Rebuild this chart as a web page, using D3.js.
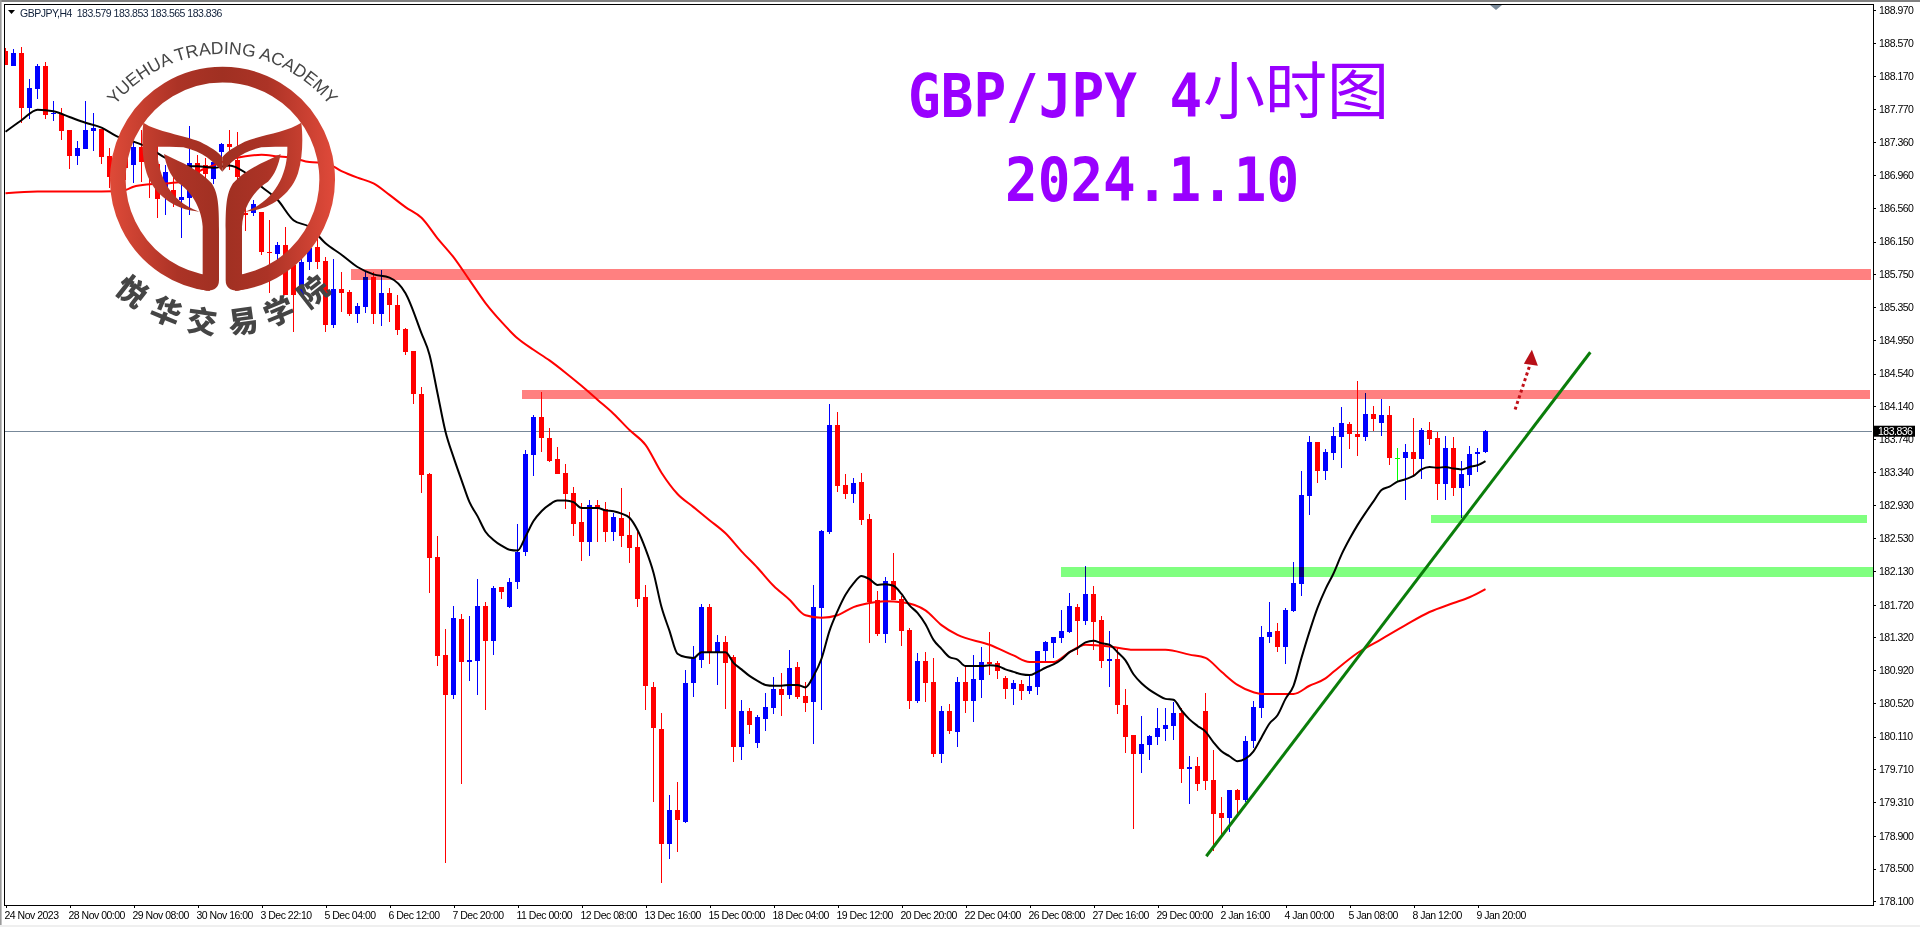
<!DOCTYPE html>
<html><head><meta charset="utf-8">
<style>
html,body{margin:0;padding:0;background:#fff;overflow:hidden}
svg{display:block}
.ax text{font-family:"Liberation Sans",sans-serif;font-size:10.5px;fill:#000;letter-spacing:-0.5px}
.ax line{stroke:#000;shape-rendering:crispEdges}
.ax path{display:none}
</style>
<script src="https://cdn.jsdelivr.net/npm/d3@7"></script>
</head><body>
<script>
const opens=[188.48,188.29,188.45,187.78,188.01,188.29,187.71,187.71,187.51,187.19,
187.28,187.50,187.52,187.19,186.95,187.27,187.08,187.30,187.27,187.10,
186.72,186.78,186.66,186.68,187.11,187.08,186.91,187.24,187.34,187.15,
186.50,186.50,186.51,186.02,186.00,186.11,185.86,185.50,185.90,186.08,
185.91,185.13,185.57,185.53,185.27,185.35,185.72,185.27,185.52,185.38,
185.08,184.81,184.29,183.31,182.30,181.10,180.62,181.54,181.02,181.03,
181.70,181.28,181.93,181.69,182.00,182.36,183.55,184.01,183.75,183.50,
183.33,183.08,182.73,182.48,182.94,182.89,182.61,182.78,182.57,182.42,
181.81,180.72,180.20,178.80,179.21,179.07,180.76,181.04,181.69,181.13,
181.26,181.08,179.98,180.42,180.03,180.32,180.46,180.69,180.62,180.96,
180.60,180.53,181.68,182.61,183.91,183.18,183.07,183.22,182.76,181.78,
181.36,182.01,181.79,181.41,180.55,181.03,180.78,179.90,180.42,180.17,
180.78,180.54,180.80,181.02,181.01,180.82,180.69,180.75,180.67,180.71,
181.15,181.25,181.31,181.39,181.69,181.52,181.85,181.53,181.03,181.06,
180.50,180.13,179.90,180.01,180.10,180.20,180.24,180.40,179.71,179.75,
180.42,179.58,179.18,179.12,179.46,179.34,180.06,180.46,181.32,181.40,
181.20,181.64,181.97,183.05,183.70,183.35,183.57,183.77,183.92,183.80,
183.77,184.05,183.94,184.03,183.51,183.51,183.58,183.50,183.85,183.75,
183.19,183.63,183.14,183.30,183.56,183.579];
const highs=[188.51,188.50,188.52,188.13,188.32,188.34,187.87,187.78,187.51,187.38,
187.87,187.72,187.52,187.29,187.33,187.39,187.37,187.51,187.45,187.39,
187.08,187.02,186.86,187.56,187.21,187.17,187.21,187.35,187.51,187.49,
186.69,186.66,186.51,186.41,186.15,186.33,185.96,186.08,186.25,186.23,
185.96,185.94,185.78,185.56,185.40,185.78,185.78,185.80,185.58,185.50,
185.10,184.81,184.38,183.33,182.56,181.42,181.70,181.61,181.58,182.03,
181.75,181.95,181.93,182.05,182.70,183.61,184.03,184.32,183.88,183.64,
183.44,183.16,182.96,183.00,183.00,182.97,182.84,183.14,182.85,182.61,
181.96,180.78,180.40,179.40,179.56,180.92,181.21,181.73,181.73,181.35,
181.34,181.10,180.56,180.46,180.37,180.64,180.84,180.89,181.17,181.02,
180.78,181.96,182.63,184.17,184.07,183.31,183.27,183.33,182.83,181.89,
182.06,182.35,181.83,181.43,181.13,181.14,181.07,180.48,180.51,180.84,
180.97,181.11,181.20,181.39,181.03,180.85,180.80,180.80,180.87,181.15,
181.28,181.33,181.65,181.86,181.73,182.19,181.95,181.58,181.40,181.20,
180.69,180.13,180.36,180.13,180.46,180.46,180.53,180.46,179.87,179.86,
180.64,179.95,179.37,179.46,179.47,180.12,180.54,181.46,181.75,181.49,
181.68,182.24,183.35,183.78,183.70,183.62,183.89,184.13,183.95,184.45,
184.30,184.14,184.23,184.14,183.63,183.68,184.00,183.88,183.95,183.83,
183.78,183.76,183.47,183.66,183.63,183.853];
const lows=[188.30,188.29,187.60,187.65,187.89,187.65,187.62,187.39,187.04,187.08,
187.28,187.26,187.10,186.80,186.84,186.90,186.86,186.88,186.68,186.44,
186.47,186.57,186.19,186.47,186.84,186.90,186.85,187.02,187.02,186.90,
186.28,186.46,185.99,185.52,185.89,185.50,185.05,185.47,185.80,185.82,
185.05,185.10,185.29,185.24,185.16,185.28,185.14,185.12,185.17,185.01,
184.77,184.17,183.08,181.86,180.97,178.57,180.57,179.53,180.79,180.62,
180.43,181.10,181.79,181.68,181.91,182.31,183.29,183.58,183.46,183.31,
182.89,182.56,182.25,182.31,182.48,182.48,182.50,182.42,182.23,181.69,
180.43,179.31,178.32,178.62,178.70,179.06,180.59,180.95,180.99,180.74,
180.45,179.80,179.83,180.14,179.97,180.18,180.39,180.36,180.57,180.57,
180.41,180.02,180.43,182.58,183.09,183.01,182.96,182.69,181.25,181.34,
181.25,181.78,181.21,180.45,180.52,180.53,179.86,179.79,180.14,179.98,
180.40,180.29,180.58,180.86,180.81,180.57,180.50,180.56,180.63,180.62,
181.02,181.07,181.25,181.37,181.10,181.47,181.17,180.95,180.71,180.39,
179.91,178.98,179.67,179.82,180.01,180.06,180.07,179.54,179.29,179.45,
179.46,178.71,178.91,178.95,179.17,179.31,179.97,180.34,181.25,181.14,
180.99,181.63,181.83,182.81,183.20,183.24,183.48,183.39,183.62,183.53,
183.72,183.84,183.78,183.42,183.23,183.00,183.28,183.25,183.67,183.00,
183.00,183.05,182.78,183.17,183.34,183.565];
const closes=[188.30,188.45,187.78,188.02,188.29,187.69,187.72,187.50,187.19,187.29,
187.51,187.54,187.18,186.94,187.17,187.05,187.30,187.12,187.02,186.67,
187.00,186.68,186.69,187.11,186.99,186.97,187.12,187.34,187.30,186.94,
186.47,186.61,186.02,186.01,186.11,185.50,185.50,185.90,186.07,185.90,
185.13,185.57,185.52,185.27,185.36,185.72,185.27,185.52,185.38,185.07,
184.80,184.29,183.30,182.29,181.09,180.62,181.56,181.02,181.04,181.70,
181.28,181.92,181.87,182.00,182.36,183.56,184.01,183.75,183.47,183.31,
183.07,182.70,182.49,182.94,182.89,182.61,182.79,182.56,182.41,181.79,
180.73,180.21,178.80,179.21,179.09,180.76,181.07,181.69,181.13,181.26,
181.01,179.98,180.42,180.25,180.35,180.47,180.69,180.62,180.95,180.59,
180.52,181.69,182.62,183.91,183.17,183.07,183.20,182.75,181.75,181.36,
182.01,181.78,181.40,180.55,181.03,180.76,179.90,180.42,180.18,180.78,
180.54,180.81,181.02,180.99,180.91,180.69,180.76,180.67,180.73,181.15,
181.26,181.33,181.40,181.70,181.52,181.85,181.51,181.03,181.06,180.50,
180.10,179.90,180.02,180.12,180.21,180.25,180.40,179.71,179.74,179.53,
179.57,179.17,179.12,179.46,179.34,180.06,180.47,181.33,181.39,181.20,
181.65,181.98,183.06,183.70,183.35,183.58,183.78,183.94,183.80,183.77,
184.05,183.98,184.03,183.51,183.51,183.58,183.50,183.85,183.74,183.19,
183.63,183.14,183.31,183.56,183.58,183.836];

const fastBars=[0,2,4,6,8,10,12,14,16,18,20,22,24,26,28,30,32,34,36,38,40,42,44,46,48,50,52,53,54,55,
56,57,58,59,60,61,62,63,64,65,66,67,68,69,70,71,72,73,74,75,76,77,78,79,80,81,82,83,84,85,86,87,88,89,90,
91,92,93,94,95,96,97,98,99,100,101,102,103,104,105,106,107,108,109,110,111,112,113,114,115,116,117,118,119,120,
121,122,123,124,125,126,127,128,129,130,131,132,133,134,135,136,137,138,139,140,141,142,143,144,145,146,147,148,149,150,
151,152,153,154,155,156,157,158,159,160,161,162,163,164,165,166,167,168,169,170,171,172,173,174,175,176,177,178,179,180,181,182,183,184,185];
const fastMA=[187.49,187.63,187.76,187.74,187.67,187.60,187.54,187.43,187.37,187.29,187.17,187.07,187.07,187.05,187.08,186.99,186.82,186.66,186.41,186.33,186.13,185.99,185.84,185.75,185.71,185.52,185.03,184.77,184.30,183.83,
183.52,183.24,182.97,182.80,182.61,182.51,182.44,182.39,182.38,182.55,182.74,182.86,182.94,182.99,182.99,182.97,182.90,182.90,182.90,182.87,182.86,182.83,182.78,182.63,182.40,182.11,181.69,181.40,181.12,181.08,181.07,181.14,181.14,181.14,181.14,
181.01,180.93,180.85,180.79,180.74,180.73,180.73,180.74,180.74,180.71,180.85,181.06,181.40,181.64,181.84,181.98,182.07,182.03,181.96,181.97,181.95,181.85,181.71,181.62,181.48,181.29,181.18,181.08,181.05,180.97,
180.97,180.97,180.98,180.97,180.93,180.90,180.87,180.86,180.90,180.95,180.99,181.05,181.14,181.19,181.26,181.28,181.25,181.23,181.14,181.04,180.87,180.76,180.68,180.62,180.57,180.56,180.43,180.32,180.24,180.17,
180.04,179.93,179.87,179.81,179.84,179.93,180.10,180.27,180.37,180.57,180.73,181.07,181.39,181.68,181.91,182.10,182.33,182.52,182.69,182.84,182.98,183.12,183.16,183.22,183.25,183.29,183.37,183.40,183.39,183.40,183.38,183.37,183.40,183.42,183.47];

const slowBars=[0,4,8,12,15,16,18,20,22,24,26,28,30,32,34,36,38,40,42,44,46,48,50,52,54,56,58,60,62,64,66,68,70,72,74,76,78,80,82,84,86,88,90,92,94,96,98,100,102,104,106,108,110,112,115,117,119,123,126,128,131,133,135,138,141,145,148,150,152,154,156,157,161,163,165,166,169,172,175,178,181,183,185];
const slowMA=[186.74,186.76,186.76,186.76,186.78,186.82,186.85,186.86,186.88,187.00,187.08,187.15,187.19,187.21,187.19,187.17,187.12,187.11,187.01,186.93,186.86,186.72,186.57,186.44,186.19,185.96,185.68,185.40,185.17,184.97,184.83,184.70,184.55,184.39,184.22,184.05,183.85,183.67,183.33,183.07,182.91,182.75,182.59,182.37,182.17,181.95,181.78,181.59,181.56,181.59,181.69,181.74,181.76,181.75,181.65,181.47,181.35,181.23,181.10,181.02,181.02,181.14,181.23,181.21,181.17,181.17,181.11,181.07,180.90,180.74,180.65,180.63,180.63,180.73,180.82,180.90,181.13,181.30,181.47,181.63,181.74,181.81,181.91];

const yTicks=[188.97,188.57,188.17,187.77,187.36,186.96,186.56,186.15,185.75,185.35,184.95,184.54,184.14,183.74,183.34,182.93,182.53,182.13,181.72,181.32,180.92,180.52,180.11,179.71,179.31,178.90,178.50,178.10];
const xLabels=["24 Nov 2023","28 Nov 00:00","29 Nov 08:00","30 Nov 16:00","3 Dec 22:10","5 Dec 04:00","6 Dec 12:00","7 Dec 20:00","11 Dec 00:00","12 Dec 08:00","13 Dec 16:00","15 Dec 00:00","18 Dec 04:00","19 Dec 12:00","20 Dec 20:00","22 Dec 04:00","26 Dec 08:00","27 Dec 16:00","29 Dec 00:00","2 Jan 16:00","4 Jan 00:00","5 Jan 08:00","8 Jan 12:00","9 Jan 20:00"];
const xLabelStep=8;

const zoneStart=[43.2,64.6,131.95,178.2];
const zoneEnd=[233.2,233.1,233.6,232.7];
const zoneTop=[185.81,184.34,182.18,182.81];
const zoneBottom=[185.68,184.23,182.06,182.72];
const zoneColor=["#ff8080","#ff8080","#80ff80","#80ff80"];
const trendBars=[150.1,198.1];
const trendPrices=[178.65,184.80];
const arrowBars=[188.7,190.5];
const arrowPrices=[184.10,184.63];
const arrowTipBar=190.8, arrowTipPrice=184.83;
const lastPrice=183.836;
const headline="GBPJPY,H4  183.579 183.853 183.565 183.836";

const W=1920,H=927;
const frame={l:4.5,r:1872.5,t:4.5,b:904.5};
const x=d3.scaleLinear().domain([0,185]).range([5.5,1485.5]);
const y=d3.scaleLinear().domain([178.067,189.0455]).range([904,4.3]);

const svg=d3.select("body").append("svg").attr("width",W).attr("height",H).attr("viewBox",`0 0 ${W} ${H}`).style("isolation","isolate");
svg.append("rect").attr("width",W).attr("height",H).attr("fill","#fff");
svg.append("rect").attr("width",W).attr("height",2).attr("fill","#808080");
svg.append("rect").attr("width",1.6).attr("height",H).attr("fill","#9a9a9a");
svg.append("rect").attr("y",925).attr("width",W).attr("height",2).attr("fill","#efefef");
const defs=svg.append("defs");
defs.append("clipPath").attr("id","plot").append("rect").attr("x",frame.l+0.5).attr("y",frame.t+0.5).attr("width",frame.r-frame.l-1).attr("height",frame.b-frame.t-1);

const plot=svg.append("g").attr("clip-path","url(#plot)");
plot.append("line").attr("x1",frame.l).attr("x2",frame.r).attr("y1",Math.round(y(lastPrice))+0.5).attr("y2",Math.round(y(lastPrice))+0.5).attr("stroke","#778899").attr("stroke-width",1);

const bars=d3.range(opens.length).map(i=>({i,o:opens[i],h:highs[i],l:lows[i],c:closes[i]}));
const col=d=>d.c>d.o?"#0000ff":d.c<d.o?"#ff0000":"#00ff00";
const cg=plot.append("g").attr("shape-rendering","crispEdges");
cg.selectAll(".wick").data(bars).join("rect").attr("class","wick")
 .attr("x",d=>Math.floor(x(d.i))).attr("width",1)
 .attr("y",d=>Math.round(y(d.h))).attr("height",d=>Math.max(1,Math.round(y(d.l))-Math.round(y(d.h))))
 .attr("fill",col);
cg.selectAll(".body").data(bars).join("rect").attr("class","body")
 .attr("x",d=>Math.floor(x(d.i))-2).attr("width",5)
 .attr("y",d=>Math.round(y(Math.max(d.o,d.c))))
 .attr("height",d=>Math.max(1,Math.round(y(Math.min(d.o,d.c)))-Math.round(y(Math.max(d.o,d.c)))))
 .attr("fill",col);

const line=d3.line().x(d=>x(d[0])).y(d=>y(d[1])).curve(d3.curveMonotoneX);
plot.append("path").attr("d",line(slowBars.map((b,i)=>[b,slowMA[i]]))).attr("fill","none").attr("stroke","#ff0000").attr("stroke-width",2);
plot.append("path").attr("d",line(fastBars.map((b,i)=>[b,fastMA[i]]))).attr("fill","none").attr("stroke","#000").attr("stroke-width",2);

// price zones
const zones=svg.append("g").attr("shape-rendering","crispEdges").style("mix-blend-mode","multiply");
zones.selectAll("rect").data(d3.range(zoneStart.length)).join("rect")
 .attr("x",i=>x(zoneStart[i])).attr("width",i=>x(zoneEnd[i])-x(zoneStart[i]))
 .attr("y",i=>y(zoneTop[i])).attr("height",i=>y(zoneBottom[i])-y(zoneTop[i]))
 .attr("fill",i=>zoneColor[i]);

// frame
svg.append("rect").attr("x",frame.l-0.5).attr("y",frame.t-0.5).attr("width",frame.r-frame.l+1).attr("height",frame.b-frame.t+1)
 .attr("fill","none").attr("stroke","#000").attr("stroke-width",1).attr("shape-rendering","crispEdges");

// axes
const yAxis=d3.axisRight(y).tickValues(yTicks).tickFormat(d3.format(".3f")).tickSize(3).tickPadding(3);
svg.append("g").attr("class","ax").attr("transform",`translate(${frame.r+0.5},0)`).call(yAxis);
const xAxis=d3.axisBottom(x).tickValues(xLabels.map((_,i)=>i*xLabelStep)).tickFormat((d,i)=>xLabels[i]).tickSize(3).tickPadding(4);
svg.append("g").attr("class","ax").attr("transform",`translate(0,${frame.b})`).call(xAxis)
 .selectAll("text").attr("text-anchor","start").attr("dx",-1.5);

// last price label
const ly=y(lastPrice);
svg.append("rect").attr("x",1874).attr("y",ly-5.5).attr("width",41).attr("height",11).attr("fill","#000");
svg.append("text").attr("x",1878).attr("y",ly+4).attr("font-family","Liberation Sans").attr("font-size",10.5).attr("letter-spacing",-0.5).attr("fill","#fff").text(d3.format(".3f")(lastPrice));

// headline
svg.append("path").attr("d","M8,10 L15,10 L11.5,14 Z").attr("fill","#000");
svg.append("text").attr("x",20).attr("y",16.5).attr("font-family","Liberation Sans").attr("font-size",10.5).attr("letter-spacing",-0.5).attr("fill","#10203a").style("white-space","pre").text(headline);

// chart shift marker
svg.append("path").attr("d","M1490,5 L1502,5 L1496,10 Z").attr("fill","#7a8a9a");

// trend line
svg.append("line").attr("x1",x(trendBars[0])).attr("y1",y(trendPrices[0])).attr("x2",x(trendBars[1])).attr("y2",y(trendPrices[1])).attr("stroke","#0a7d0a").attr("stroke-width",3);

// dotted arrow
svg.append("line").attr("x1",x(arrowBars[0])).attr("y1",y(arrowPrices[0])).attr("x2",x(arrowBars[1])).attr("y2",y(arrowPrices[1])).attr("stroke","#c01018").attr("stroke-width",3).attr("stroke-dasharray","3,3");
const tx=x(arrowTipBar),ty=y(arrowTipPrice);
svg.append("path").attr("d",`M${tx},${ty} L${tx+6},${ty+16} L${tx-8},${ty+14} Z`).attr("fill","#b81018");

// big title
const title=svg.append("g").attr("fill","#9900ff");
title.append("text").attr("transform","translate(908,117) scale(0.905,1)").attr("font-family","DejaVu Sans Mono").attr("font-weight","bold").attr("font-size",60).style("white-space","pre").text("GBP/JPY 4");
title.append("text").attr("x",1203).attr("y",114).attr("font-family","Noto Sans CJK SC").attr("font-weight",400).attr("font-size",62).text("小时图");
title.append("text").attr("transform","translate(1005,201) scale(0.905,1)").attr("font-family","DejaVu Sans Mono").attr("font-weight","bold").attr("font-size",60).text("2024.1.10");

// logo
const logo=svg.append("g").attr("transform","translate(90,30) scale(0.33333)");
const grad=defs.append("linearGradient").attr("id","logoGrad").attr("gradientUnits","userSpaceOnUse").attr("x1",60).attr("x2",735).attr("y1",0).attr("y2",0);
grad.append("stop").attr("offset",0).attr("stop-color","#de4a38");
grad.append("stop").attr("offset",0.3).attr("stop-color","#ac3326");
grad.append("stop").attr("offset",0.5).attr("stop-color","#a03022");
grad.append("stop").attr("offset",0.7).attr("stop-color","#ac3326");
grad.append("stop").attr("offset",1).attr("stop-color","#e04a3a");
const G="url(#logoGrad)";
logo.append("path").attr("d","M362,760 A314,314 0 1 1 433,760").attr("fill","none").attr("stroke",G).attr("stroke-width",47);
const wing="M160,278 C200,305 280,315 330,335 C360,350 385,365 397,382 L397,425 C370,395 340,365 280,352 C250,350 225,350 202,350 C200,420 230,510 328,545 C250,540 190,490 170,430 C155,380 155,320 160,278 Z";
const stem="M222,372 C280,400 330,420 365,460 C385,490 387,530 387,600 L387,750 Q387,782 350,782 L320,775 L338,735 L338,590 C335,530 300,480 260,455 C240,435 228,405 222,372 Z";
[wing,stem].forEach(d=>{
  logo.append("path").attr("d",d).attr("fill",G);
  logo.append("path").attr("d",d).attr("fill",G).attr("transform","translate(794,0) scale(-1,1)");
});
defs.append("path").attr("id","logoArc").attr("d","M116.8,103.2 A137.8,137.8 0 0 1 328,103.2");
svg.append("text").attr("font-family","Liberation Sans").attr("font-size",17.5).attr("fill","#454545").attr("text-anchor","middle")
 .append("textPath").attr("href","#logoArc").attr("startOffset","50%").text("YUEHUA TRADING ACADEMY");
const cn=["悦","华","交","易","学","院"], cnAngles=[38,22.5,8,-8,-22.5,-38];
const cnG=svg.append("g").attr("transform","translate(222.5,175.5)");
cn.forEach((c,i)=>{
  cnG.append("text").attr("transform",`rotate(${cnAngles[i]}) translate(0,147.5)`).attr("text-anchor","middle").attr("dy","0.36em")
   .attr("font-family","Noto Sans CJK SC").attr("font-weight",900).attr("font-size",30).attr("fill","#454545").text(c);
});
</script>
</body></html>
